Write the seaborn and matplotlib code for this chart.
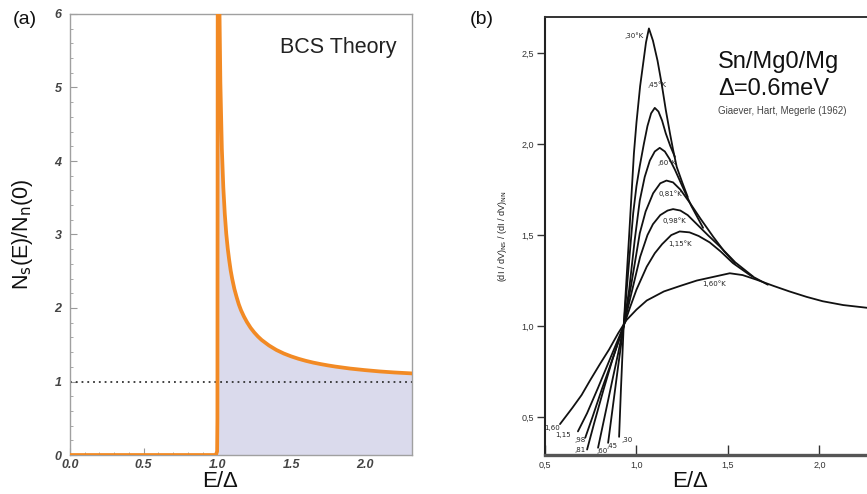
import matplotlib
matplotlib.use("Agg")
import matplotlib.pyplot as plt
from matplotlib.ticker import MultipleLocator, FormatStrFormatter
import numpy as np
import pandas as pd
import seaborn as sns

sns.set_theme(style="white")
plt.rcParams['font.family'] = ['Liberation Sans', 'DejaVu Sans']

# ---------------- Panel (a): BCS density of states ----------------
bcs_E = [0.0, 0.99, 0.998, 1.0, 1.001, 1.003, 1.008, 1.014, 1.02, 1.03, 1.04, 1.05, 1.06, 1.07,
         1.08, 1.09, 1.10, 1.115, 1.13, 1.145, 1.16, 1.18, 1.20, 1.225, 1.25, 1.275, 1.30, 1.35,
         1.40, 1.45, 1.50, 1.55, 1.60, 1.65, 1.70, 1.75, 1.80, 1.90, 2.00, 2.10, 2.20, 2.32]
bcs_N = [0.0, 0.0, 0.05, 0.5, 3.0, 9.0, 7.6, 6.04, 5.07, 4.17, 3.64, 3.28, 3.01, 2.81,
         2.65, 2.51, 2.40, 2.26, 2.15, 2.05, 1.97, 1.884, 1.81, 1.731, 1.667, 1.612, 1.565, 1.49,
         1.429, 1.381, 1.342, 1.309, 1.281, 1.257, 1.237, 1.219, 1.203, 1.176, 1.155, 1.137, 1.123, 1.110]
normal_level = 1.0

# ---------------- Panel (b): Giaever, Hart, Megerle (1962) curves ----------------
temps = [",30°K", ",45°K", ",60°K", "0,81°K", "0,98°K", "1,15°K", "1,60°K"]
end_labels = [",30", ",45", ",60", ",81", ",98", "1,15", "1,60"]

T030_E = [0.905, 0.915, 0.93, 0.945, 0.96, 0.975, 0.986, 1.0, 1.02, 1.036, 1.052, 1.068, 1.09,
          1.115, 1.138, 1.16, 1.183, 1.20, 1.22, 1.25, 1.28]
T030_G = [0.39, 0.65, 1.0, 1.25, 1.5, 1.76, 1.95, 2.12, 2.32, 2.44, 2.56, 2.637, 2.57,
          2.46, 2.33, 2.19, 2.06, 1.97, 1.875, 1.79, 1.71]
T045_E = [0.845, 0.87, 0.90, 0.93, 0.955, 0.982, 1.0, 1.018, 1.04, 1.06, 1.08, 1.10, 1.12,
          1.14, 1.16, 1.185, 1.21]
T045_G = [0.357, 0.55, 0.78, 1.0, 1.3, 1.62, 1.77, 1.88, 2.0, 2.1, 2.17, 2.20, 2.18,
          2.13, 2.06, 1.99, 1.93]
T060_E = [0.79, 0.83, 0.87, 0.90, 0.93, 0.96, 0.99, 1.018, 1.045, 1.073, 1.10, 1.127, 1.155,
          1.18, 1.21, 1.25, 1.30, 1.364]
T060_G = [0.33, 0.52, 0.71, 0.85, 1.0, 1.2, 1.47, 1.69, 1.82, 1.91, 1.96, 1.98, 1.96,
          1.92, 1.86, 1.77, 1.66, 1.54]
T081_E = [0.73, 0.77, 0.82, 0.87, 0.93, 0.97, 1.0, 1.018, 1.05, 1.091, 1.13, 1.164, 1.20,
          1.24, 1.29, 1.35, 1.42, 1.48, 1.538]
T081_G = [0.32, 0.47, 0.65, 0.82, 1.0, 1.22, 1.40, 1.51, 1.63, 1.73, 1.785, 1.80, 1.79,
          1.75, 1.68, 1.59, 1.49, 1.41, 1.346]
T098_E = [0.72, 0.76, 0.81, 0.87, 0.93, 0.97, 1.02, 1.06, 1.09, 1.13, 1.17, 1.20, 1.24,
          1.28, 1.33, 1.39, 1.455, 1.54, 1.636]
T098_G = [0.385, 0.50, 0.65, 0.82, 1.0, 1.17, 1.38, 1.50, 1.56, 1.61, 1.635, 1.643, 1.635,
          1.61, 1.56, 1.50, 1.438, 1.35, 1.273]
T115_E = [0.68, 0.73, 0.79, 0.86, 0.93, 0.964, 1.0, 1.056, 1.10, 1.14, 1.19, 1.236, 1.29,
          1.34, 1.40, 1.46, 1.527, 1.62, 1.718]
T115_G = [0.42, 0.52, 0.66, 0.83, 1.0, 1.10, 1.20, 1.326, 1.40, 1.45, 1.50, 1.52, 1.515,
          1.495, 1.46, 1.41, 1.346, 1.28, 1.227]
T160_E = [0.582, 0.65, 0.70, 0.746, 0.80, 0.85, 0.90, 0.946, 1.0, 1.056, 1.15, 1.238, 1.33,
          1.42, 1.51, 1.58, 1.655, 1.75, 1.836, 1.93, 2.018, 2.13, 2.26]
T160_G = [0.46, 0.55, 0.62, 0.70, 0.79, 0.87, 0.96, 1.033, 1.09, 1.14, 1.19, 1.22, 1.25,
          1.27, 1.29, 1.28, 1.255, 1.22, 1.19, 1.16, 1.136, 1.115, 1.10]

curve_E = [T030_E, T045_E, T060_E, T081_E, T098_E, T115_E, T160_E]
curve_G = [T030_G, T045_G, T060_G, T081_G, T098_G, T115_G, T160_G]

# label anchor positions (data coords) for the curve labels
peak_lab_x = [0.986, 1.112, 1.165, 1.185, 1.205, 1.240, 1.425]
peak_lab_y = [2.60, 2.33, 1.90, 1.73, 1.58, 1.455, 1.235]
end_lab_x = [0.946, 0.865, 0.81, 0.69, 0.69, 0.60, 0.538]
end_lab_y = [0.37, 0.337, 0.31, 0.32, 0.374, 0.40, 0.44]

# ---------------- Figure ----------------
W, H = 867, 494
fig = plt.figure(figsize=(W / 100, H / 100), dpi=100)
fig.patch.set_facecolor("white")

def box(l, t, r, b):
    return [l / W, 1 - b / H, (r - l) / W, (b - t) / H]

# ---- Panel a ----
axA = fig.add_axes(box(70, 14, 412, 455))
dfA = pd.DataFrame({"E": bcs_E, "N": bcs_N})
axA.fill_between(dfA["E"], dfA["N"], 0, where=dfA["E"] >= 0.999, color="#dadaec", lw=0, zorder=1)
axA.axhline(normal_level, color="#333333", lw=1.3, ls=(0, (1, 2.2)), zorder=2)
sns.lineplot(data=dfA, x="E", y="N", ax=axA, color="#f28a24", lw=2.7, sort=False,
             estimator=None, zorder=3)
axA.set_xlim(0, 2.32)
axA.set_ylim(0, 6)
axA.set_xlabel("")
axA.set_ylabel(r"N$_\mathrm{s}$(E)/N$_\mathrm{n}$(0)", fontsize=15.5, color="#111111", labelpad=14)
axA.xaxis.set_major_locator(MultipleLocator(0.5))
axA.xaxis.set_minor_locator(MultipleLocator(0.1))
axA.yaxis.set_major_locator(MultipleLocator(1))
axA.yaxis.set_minor_locator(MultipleLocator(0.2))
axA.xaxis.set_major_formatter(FormatStrFormatter("%.1f"))
axA.yaxis.set_major_formatter(FormatStrFormatter("%d"))
axA.tick_params(axis="both", which="both", direction="in", color="#999999",
                left=True, bottom=True, top=False, right=False)
axA.tick_params(axis="both", which="major", length=5, width=0.8, labelsize=9,
                labelcolor="#444444")
axA.tick_params(axis="x", which="major", pad=3)
axA.tick_params(axis="y", which="major", pad=6)
axA.tick_params(axis="both", which="minor", length=2.5, width=0.6)
for lab in axA.get_xticklabels() + axA.get_yticklabels():
    lab.set_fontstyle("italic")
    lab.set_fontweight("bold")
for s in axA.spines.values():
    s.set_color("#a0a0a0")
    s.set_linewidth(1.0)
axA.text(0.955, 0.925, "BCS Theory", transform=axA.transAxes, ha="right", va="center",
         fontsize=15.5, color="#222222")

# ---- Panel b ----
axB = fig.add_axes(box(545, 17, 867, 455))
rows = []
for t, es, gs in zip(temps, curve_E, curve_G):
    for e, g in zip(es, gs):
        rows.append((t, e, g))
dfB = pd.DataFrame(rows, columns=["T", "E", "G"])
sns.lineplot(data=dfB, x="E", y="G", hue="T", palette=["#111111"] * len(temps),
             ax=axB, lw=1.3, sort=False, estimator=None, legend=False)
axB.set_xlim(0.5, 2.26)
axB.set_ylim(0.29, 2.70)
axB.set_xlabel("")
axB.set_ylabel(r"(dI / dV)$_\mathrm{NS}$ / (dI / dV)$_\mathrm{NN}$", fontsize=6.5,
               color="#222222", labelpad=9)
axB.set_xticks([0.5, 1.0, 1.5, 2.0])
axB.set_xticklabels(["0,5", "1,0", "1,5", "2,0"])
axB.set_yticks([0.5, 1.0, 1.5, 2.0, 2.5])
axB.set_yticklabels(["0,5", "1,0", "1,5", "2,0", "2,5"])
axB.tick_params(axis="x", direction="in", length=7, width=1.0, color="#333333",
                labelsize=6.5, labelcolor="#333333", pad=4, bottom=True)
axB.tick_params(axis="y", direction="out", length=6, width=1.0, color="#333333",
                labelsize=6.5, labelcolor="#333333", pad=2, left=True)
axB.spines["right"].set_visible(False)
axB.spines["top"].set_color("#333333")
axB.spines["top"].set_linewidth(1.4)
axB.spines["left"].set_color("#222222")
axB.spines["left"].set_linewidth(1.5)
axB.spines["bottom"].set_color("#555555")
axB.spines["bottom"].set_linewidth(2.4)

for lab, x, y in zip(temps, peak_lab_x, peak_lab_y):
    axB.text(x, y, lab, fontsize=5, ha="center", va="center", color="#222222",
             family="DejaVu Sans")
for lab, x, y in zip(end_labels, end_lab_x, end_lab_y):
    axB.text(x, y, lab, fontsize=5, ha="center", va="center", color="#222222",
             family="DejaVu Sans")

fig.text(718 / W, 1 - 62 / H, "Sn/Mg0/Mg", fontsize=17, ha="left", va="center", color="#111111")
fig.text(718 / W, 1 - 89 / H, "Δ=0.6meV", fontsize=17, ha="left", va="center", color="#111111")
fig.text(718 / W, 1 - 111 / H, "Giaever, Hart, Megerle (1962)", fontsize=7, ha="left",
         va="center", color="#444444")

# panel letters and shared axis labels
fig.text(13 / W, 1 - 20 / H, "(a)", fontsize=14, ha="left", va="center", color="#111111")
fig.text(470 / W, 1 - 20 / H, "(b)", fontsize=14, ha="left", va="center", color="#111111")
fig.text(220 / W, 1 - 481 / H, "E/Δ", fontsize=16, ha="center", va="center", color="#111111")
fig.text(690 / W, 1 - 481 / H, "E/Δ", fontsize=16, ha="center", va="center", color="#111111")

fig.savefig("out.png", dpi=100, facecolor="white")
